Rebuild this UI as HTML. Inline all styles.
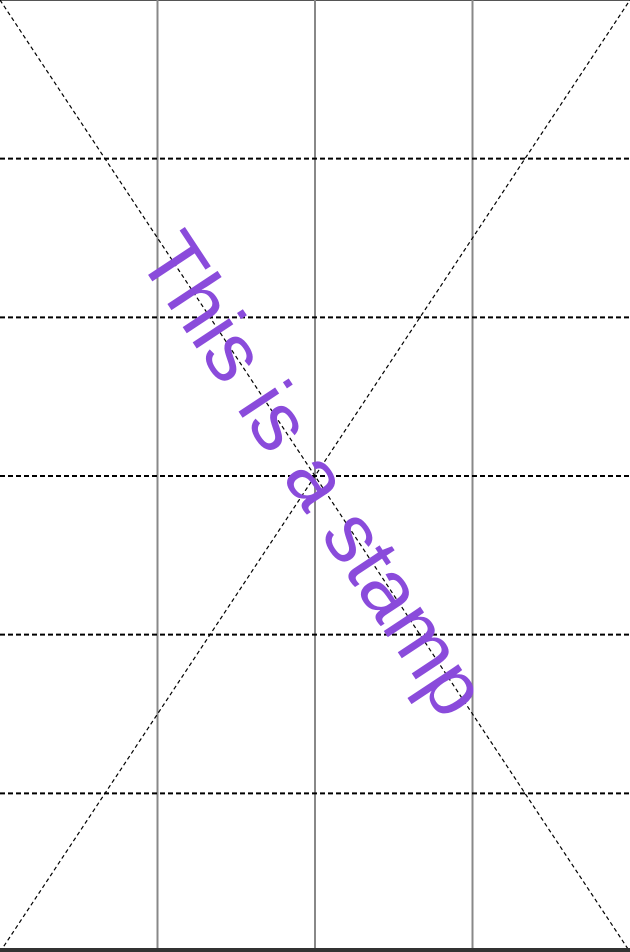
<!DOCTYPE html>
<html><head><meta charset="utf-8"><style>
html,body{margin:0;padding:0;background:#fff;width:630px;height:952px;overflow:hidden}
svg{display:block}
</style></head><body>
<svg id="chart" width="630" height="952" viewBox="0 0 630 952" xmlns="http://www.w3.org/2000/svg">
<rect x="0" y="0" width="630" height="952" fill="#fff"/>
<line x1="0" y1="0.5" x2="630" y2="0.5" stroke="#555" stroke-width="1"/>
<g id="grid"></g>
<line x1="0" y1="0" x2="630" y2="952" stroke="#000" stroke-width="1.2" stroke-dasharray="4,3"/>
<line x1="0" y1="952" x2="630" y2="0" stroke="#000" stroke-width="1.2" stroke-dasharray="4,3"/>
<text x="311" y="476" transform="rotate(56.5 311 476)" text-anchor="middle" dy="0.3em" font-family="Liberation Sans, sans-serif" font-size="83" fill="#8a4bdb">This is a stamp</text>
<rect x="0" y="948" width="630" height="4" fill="#333"/>
</svg>
<script>
const vCols = [1, 2, 3];
const hRows = [1, 2, 3, 4, 5];
const nCols = 4, nRows = 6;
const W = 630, H = 952;
const xs = c => c * W / nCols;
const ys = r => r * H / nRows;
const g = document.getElementById('grid');
const NS = 'http://www.w3.org/2000/svg';
vCols.forEach(c => {
  const l = document.createElementNS(NS, 'line');
  l.setAttribute('x1', xs(c)); l.setAttribute('x2', xs(c));
  l.setAttribute('y1', 0); l.setAttribute('y2', H);
  l.setAttribute('stroke', '#888'); l.setAttribute('stroke-width', '2');
  
  
  g.appendChild(l);
});
hRows.forEach(r => {
  const l = document.createElementNS(NS, 'line');
  l.setAttribute('x1', 0); l.setAttribute('x2', W);
  l.setAttribute('y1', ys(r)); l.setAttribute('y2', ys(r));
  l.setAttribute('stroke', '#000'); l.setAttribute('stroke-width', '2');
  l.setAttribute('stroke-dasharray', '5,3');
  
  
  g.appendChild(l);
});
</script>
</body></html>
